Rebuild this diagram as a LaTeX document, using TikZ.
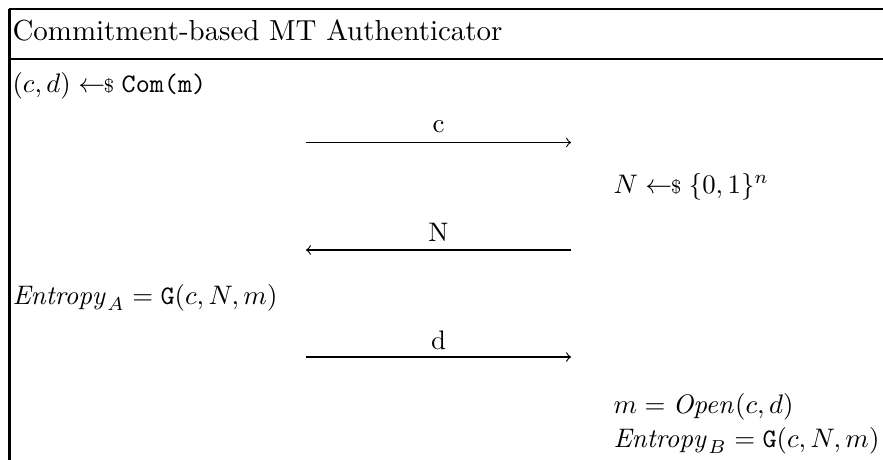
\documentclass[tikz,border=0pt]{standalone}
\usetikzlibrary{calc}
\newcommand{\smp}{\mathrel{\gets\!\!\mbox{\scriptsize\$}}}
\begin{document}
\begin{tikzpicture}[x=0.3731pt,y=-0.3731pt,
  txt/.style={anchor=base west,inner sep=0pt},
  lbl/.style={anchor=base,inner sep=0pt},
  msg/.style={line width=0.42pt}]
\useasboundingbox (0,0) rectangle (883,460);
% frame
\draw[line width=1.1pt] (9.5,460) -- (9.5,9.3);
\draw[line width=0.75pt] (9,9.3) -- (883,9.3);
\draw[line width=0.75pt] (9,59) -- (883,59);
% title
\node[txt,scale=1.08] (title) at (12,41) {Commitment-based MT Authenticator};
% left column
\node[txt] (l1) at (12,93) {$(c,d)\smp\texttt{Com(m)}$};
\node[txt] (l2) at (12,304) {$\mathit{Entropy}_A=\mathtt{G}(c,N,m)$};
% right column
\node[txt] (r1) at (613,193) {$N\smp\{0,1\}^n$};
\node[txt] (r2) at (613,413) {$m=\mathit{Open}(c,d)$};
\node[txt] (r3) at (613,447) {$\mathit{Entropy}_B=\mathtt{G}(c,N,m)$};
% messages
\coordinate (a1) at (306,142.5); \coordinate (b1) at (571,142.5);
\coordinate (a2) at (306,250);   \coordinate (b2) at (571,250);
\coordinate (a3) at (306,357);   \coordinate (b3) at (571,357);
\draw[msg,->] (a1) -- (b1);
\draw[msg,<-] (a2) -- (b2);
\draw[msg,->] (a3) -- (b3);
\node[lbl] (m1) at ($(a1)!0.5!(b1)+(0,-10)$) {c};
\node[lbl] (m2) at ($(a2)!0.5!(b2)+(0,-8)$) {N};
\node[lbl] (m3) at ($(a3)!0.5!(b3)+(0,-8)$) {d};
\end{tikzpicture}
\end{document}
